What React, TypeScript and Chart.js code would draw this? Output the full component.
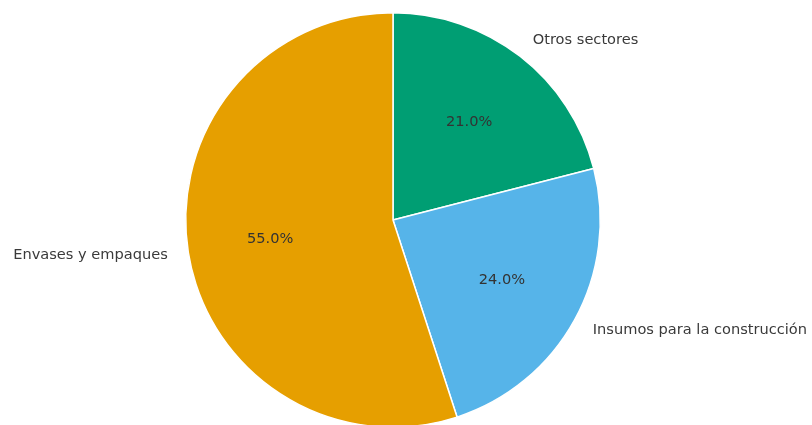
import React, { useEffect, useRef } from "react";
import { Chart, registerables } from "chart.js";

Chart.register(...registerables);

const categories = ["Otros sectores", "Insumos para la construcción", "Envases y empaques"];
const shares = [21.0, 24.0, 55.0];
const sliceColors = ["#009E73", "#56B4E9", "#E69F00"];

const labelPlugin = {
  id: "pieLabels",
  afterDraw(chart: any) {
    const ctx = chart.ctx;
    const meta = chart.getDatasetMeta(0);
    const data = chart.data.datasets[0].data as number[];
    const total = data.reduce((a: number, b: number) => a + b, 0);
    ctx.save();
    meta.data.forEach((arc: any, i: number) => {
      const { x, y, startAngle, endAngle, outerRadius } = arc.getProps(
        ["x", "y", "startAngle", "endAngle", "outerRadius"],
        true
      );
      const mid = (startAngle + endAngle) / 2;
      const c = Math.cos(mid);
      const s = Math.sin(mid);
      ctx.font = "14.6px 'DejaVu Sans'";
      ctx.fillStyle = "#3a3a3a";
      ctx.textBaseline = "middle";
      ctx.textAlign = c >= 0 ? "left" : "right";
      ctx.fillText(chart.data.labels[i], x + c * outerRadius * 1.1, y + s * outerRadius * 1.1);
      ctx.textAlign = "center";
      ctx.fillStyle = "#333333";
      const pct = ((data[i] / total) * 100).toFixed(1) + "%";
      ctx.fillText(pct, x + c * outerRadius * 0.6, y + s * outerRadius * 0.6);
    });
    ctx.restore();
  },
};

export default function App() {
  const ref = useRef<HTMLCanvasElement | null>(null);
  useEffect(() => {
    if (!ref.current) return;
    const chart = new Chart(ref.current, {
      type: "pie",
      data: {
        labels: categories,
        datasets: [
          {
            data: shares,
            backgroundColor: sliceColors,
            borderColor: "#ffffff",
            borderWidth: 1.5,
            hoverOffset: 0,
          },
        ],
      },
      options: {
        animation: false,
        responsive: false,
        devicePixelRatio: 1,
        layout: { padding: { top: 12, bottom: 12, left: 0, right: 26 } },
        plugins: {
          legend: { display: false },
          tooltip: { enabled: false },
        },
      },
      plugins: [labelPlugin],
    });
    return () => chart.destroy();
  }, []);
  return (
    <div style={{ position: "absolute", left: 0, top: 0, width: 812, height: 440, background: "#fff" }}>
      <canvas ref={ref} width={812} height={440} style={{ width: 812, height: 440 }} />
    </div>
  );
}
